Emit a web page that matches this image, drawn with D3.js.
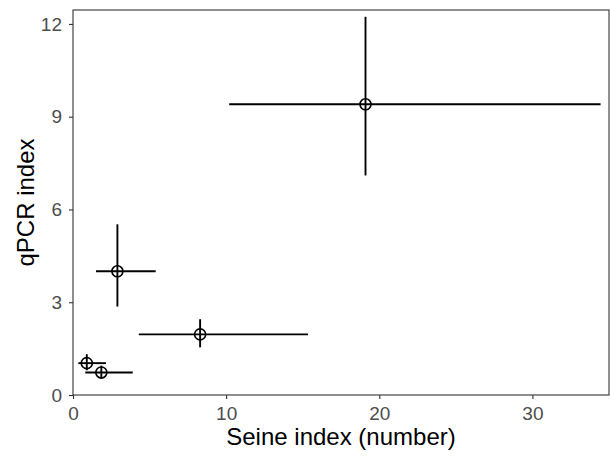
<!DOCTYPE html>
<html>
<head>
<meta charset="utf-8">
<script src="https://cdn.jsdelivr.net/npm/d3@7"></script>
<style>
  body { margin: 0; background: #fff; }
  text { font-family: "Liberation Sans", Arial, sans-serif; }
</style>
</head>
<body>
<div class="chart"></div>
<script>
// values
const seine = [19.1, 2.9, 8.3, 0.9, 1.85];
const seineLo = [10.2, 1.5, 4.3, 0.35, 0.8];
const seineHi = [34.45, 5.4, 15.35, 2.15, 3.9];
const qpcr = [9.4, 4.0, 1.96, 1.03, 0.73];
const qpcrLo = [7.1, 2.86, 1.54, 0.8, 0.52];
const qpcrHi = [12.23, 5.52, 2.45, 1.32, 0.95];
const xTicks = [0, 10, 20, 30];
const yTicks = [0, 3, 6, 9, 12];

const data = seine.map((d, i) => ({
  x: d, xlo: seineLo[i], xhi: seineHi[i],
  y: qpcr[i], ylo: qpcrLo[i], yhi: qpcrHi[i]
}));

const margin = {top: 10, right: 1, bottom: 65, left: 73};
const width = 610 - margin.left - margin.right;
const height = 460 - margin.top - margin.bottom;

const svg = d3.select('.chart').append('svg')
    .attr("width", 610)
    .attr("height", 460)
  .append("g")
    .attr("transform", "translate(" + margin.left + "," + margin.top + ")");

const xScale = d3.scaleLinear().domain([0, 35]).range([0, width]);
const yScale = d3.scaleLinear().domain([0, 12.45]).range([height, 0]);

const xAxis = d3.axisBottom(xScale).tickValues(xTicks).tickSize(4).tickPadding(8);
const yAxis = d3.axisLeft(yScale).tickValues(yTicks).tickSize(4).tickPadding(7);

svg.append("g")
    .attr("class", "axis x-axis")
    .attr("transform", `translate(0, ${height})`)
    .call(xAxis);

svg.append("g")
    .attr("class", "axis y-axis")
    .call(yAxis);

svg.selectAll(".axis .domain").remove();
svg.selectAll(".axis line").attr("stroke", "#333").attr("stroke-width", 1.1);
svg.selectAll(".axis text").attr("fill", "#4d4d4d").attr("font-size", "19px");

// panel border
svg.append("rect")
    .attr("x", 0).attr("y", 0)
    .attr("width", width).attr("height", height)
    .attr("fill", "none")
    .attr("stroke", "#333")
    .attr("stroke-width", 1.1);

svg.append("text")
    .attr("x", width / 2)
    .attr("y", height + 50)
    .attr("text-anchor", "middle")
    .attr("font-size", "24px")
    .text("Seine index (number)");

svg.append("text")
    .attr("transform", `translate(-39, ${height / 2}) rotate(-90)`)
    .attr("text-anchor", "middle")
    .attr("font-size", "24px")
    .text("qPCR index");

// horizontal error bars
svg.selectAll(".xerr")
    .data(data)
    .enter()
    .append("line")
    .attr("class", "xerr")
    .attr("x1", d => xScale(d.xlo))
    .attr("x2", d => xScale(d.xhi))
    .attr("y1", d => yScale(d.y))
    .attr("y2", d => yScale(d.y))
    .attr("stroke", "black")
    .attr("stroke-width", 1.9);

// vertical error bars
svg.selectAll(".yerr")
    .data(data)
    .enter()
    .append("line")
    .attr("class", "yerr")
    .attr("x1", d => xScale(d.x))
    .attr("x2", d => xScale(d.x))
    .attr("y1", d => yScale(d.ylo))
    .attr("y2", d => yScale(d.yhi))
    .attr("stroke", "black")
    .attr("stroke-width", 1.9);

svg.selectAll(".pt")
    .data(data)
    .enter()
    .append("circle")
    .attr("class", "pt")
    .attr("cx", d => xScale(d.x))
    .attr("cy", d => yScale(d.y))
    .attr("r", 5.5)
    .attr("fill", "none")
    .attr("stroke", "black")
    .attr("stroke-width", 1.6);
</script>
</body>
</html>
